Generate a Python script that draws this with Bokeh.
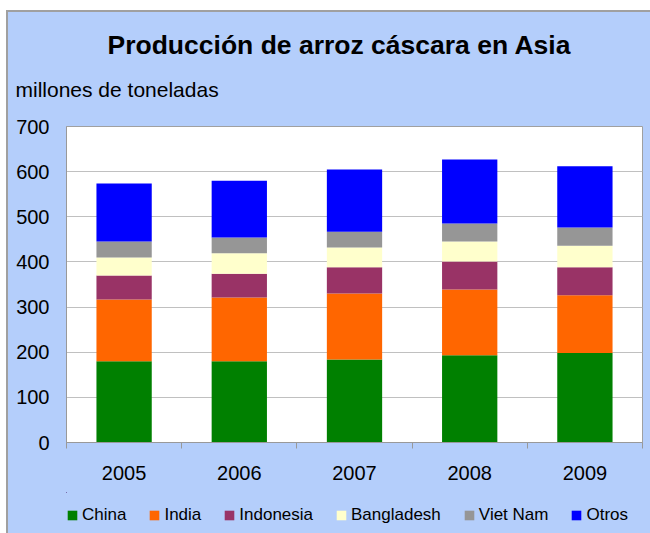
from bokeh.plotting import figure
from bokeh.models import FixedTicker, Title, Legend, ColumnDataSource
from bokeh.layouts import column
from bokeh.embed import file_html
from bokeh.resources import INLINE

years = ["2005", "2006", "2007", "2008", "2009"]
series_names = ["China", "India", "Indonesia", "Bangladesh", "Viet Nam", "Otros"]
china = [180, 180, 184, 193, 198]
india = [137, 141, 146, 146, 128]
indonesia = [53, 53, 58, 62, 62]
bangladesh = [40, 45, 44, 44, 48]
vietnam = [35, 35, 35, 40, 40]
otros = [129, 126, 138, 142, 136]
y_ticks = [0, 100, 200, 300, 400, 500, 600, 700]
colors = ["#008000", "#ff6600", "#993366", "#ffffcc", "#969696", "#0000ff"]

FONT = "Liberation Sans"
BG = "#b4cefb"

xs = [i + 0.5 for i in range(len(years))]
source = ColumnDataSource(dict(x=xs, China=china, India=india, Indonesia=indonesia,
                               Bangladesh=bangladesh, **{"Viet Nam": vietnam}, Otros=otros))

# ---- main chart ----
p = figure(width=642, height=480, x_range=(0, len(years)), y_range=(0, 700),
           output_backend="svg", toolbar_location=None,
           min_border_left=58, min_border_right=8, min_border_top=114, min_border_bottom=50,
           background_fill_color="white", border_fill_color=BG,
           title="Producción de arroz cáscara en Asia")
p.outline_line_color = "#a0a0a0"

p.title.align = "left"
p.title.offset = 41
p.title.text_font = FONT
p.title.text_font_size = "26.5px"
p.title.text_font_style = "bold"
p.title.text_color = "black"
p.title.standoff = -21

unit = Title(text="millones de toneladas", align="left", offset=-51, text_font=FONT,
             text_font_size="21px", text_font_style="normal", text_color="black", standoff=52)
p.add_layout(unit, "above")

renderers = p.vbar_stack(series_names, x="x", width=0.48, color=colors, line_color=None, source=source)

p.xaxis.ticker = FixedTicker(ticks=xs, minor_ticks=list(range(len(years) + 1)))
p.xaxis.major_label_overrides = {x: y for x, y in zip(xs, years)}
p.xaxis.major_tick_out = 0
p.xaxis.major_tick_in = 0
p.xaxis.minor_tick_out = 6
p.xaxis.minor_tick_in = 0
p.xaxis.minor_tick_line_color = "#999999"
p.xaxis.axis_line_color = "#999999"
p.xaxis.major_label_standoff = 17
p.xaxis.major_label_text_font = FONT
p.xaxis.major_label_text_font_size = "20px"
p.xaxis.major_label_text_color = "black"

p.yaxis.ticker = FixedTicker(ticks=y_ticks)
p.yaxis.major_tick_out = 0
p.yaxis.major_tick_in = 0
p.yaxis.minor_tick_line_color = None
p.yaxis.axis_line_color = "#999999"
p.yaxis.major_label_standoff = 17
p.yaxis.major_label_text_font = FONT
p.yaxis.major_label_text_font_size = "20px"
p.yaxis.major_label_text_color = "black"

p.xgrid.visible = False
p.ygrid.grid_line_color = "#c0c0c0"

# ---- legend strip (same series; its view lies away from the bars, so only the legend shows) ----
p2 = figure(width=642, height=41, x_range=(10, 15), y_range=(-3, -2), title=None,
            output_backend="svg", toolbar_location=None,
            x_axis_location=None, y_axis_location=None,
            min_border_left=58, min_border_right=8, min_border_top=0, min_border_bottom=0,
            background_fill_color=None, border_fill_color=BG, outline_line_color=None)
for g in p2.grid:
    g.visible = False
swatches = p2.vbar_stack(series_names, x="x", width=0.48, color=colors, line_color=None, source=source)
legend = Legend(items=[(n, [r]) for n, r in zip(series_names, swatches)],
                orientation="horizontal", location=(0, 8),
                glyph_width=12, glyph_height=12, label_standoff=4, spacing=22,
                padding=0, margin=0, border_line_color=None, background_fill_alpha=0,
                label_text_font=FONT, label_text_font_size="17px", label_text_color="black")
p2.add_layout(legend, "center")

layout = column(p, p2, spacing=0)
layout.margin = (10, 0, 0, 6)
layout.styles = {"border-top": "2px solid #a0a0a0", "border-left": "2px solid #a0a0a0",
                 "background-color": BG}

open("out.html", "w").write(file_html(layout, INLINE))
